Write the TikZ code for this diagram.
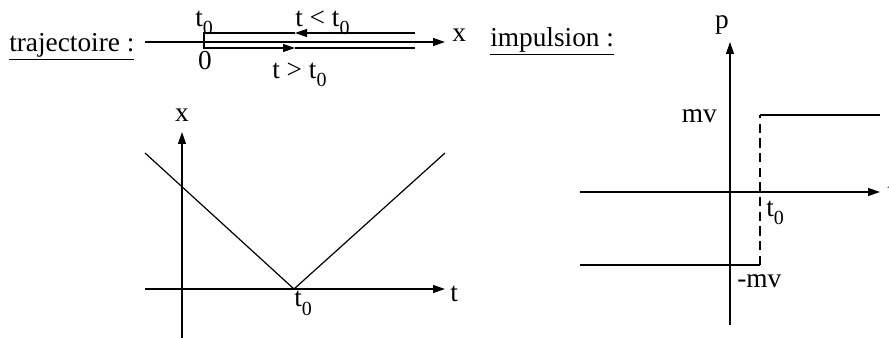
\documentclass[tikz,border=0pt]{standalone}
\usepackage{fontspec}
\setmainfont{Liberation Serif}
\usetikzlibrary{arrows.meta}
\newcommand{\tz}{t\raisebox{-6pt}{\fontsize{15}{15}\selectfont 0}}

\begin{document}
\begin{tikzpicture}[x=0.75pt, y=-0.75pt,
            ax/.style={draw=black, line width=0.9pt, -{Triangle[length=9pt, width=6pt]}},
            ln/.style={draw=black, line width=0.9pt},
            lb/.style={inner sep=0pt, font=\fontsize{20.5}{24}\selectfont}]
            \useasboundingbox (0,0) rectangle (889,338);
            % trajectoire
            \node[lb, anchor=base west] (traj) at (9,52) {\underline{trajectoire :}};
            \coordinate (a0) at (145,42);
            \coordinate (a1) at (445,42);
            \draw[ax] (a0) -- (a1);
            \node[lb, anchor=base west] (ax) at (452,42) {x};
            \coordinate (r1) at (415,33);
            \coordinate (m1) at (295,33);
            \coordinate (c1) at (204,33);
            \coordinate (c2) at (204,48);
            \coordinate (m2) at (295,48);
            \coordinate (r2) at (415,48);
            \draw[ax] (r1) -- (m1);
            \draw[ax] (m1) -- (c1) -- (c2) -- (m2);
            \draw[ln] (m2) -- (r2);
            \node[lb, anchor=base west] (tz1) at (195,27) {\tz};
            \node[lb, anchor=base west] (tlt) at (295,27) {t < \tz};
            \node[lb, anchor=base] (zero) at (205,70) {0};
            \node[lb, anchor=base west] (tgt) at (272,79) {t > \tz};
            % x(t)
            \coordinate (xb) at (182,338);
            \coordinate (xt) at (182,132);
            \coordinate (tl) at (145,289);
            \coordinate (tr) at (445,289);
            \draw[ax] (xb) -- (xt);
            \draw[ax] (tl) -- (tr);
            \node[lb, anchor=base] (xl) at (182,122) {x};
            \node[lb, anchor=base west] (tlab) at (450,302) {t};
            \coordinate (v0) at (145,153);
            \coordinate (v1) at (294,289);
            \coordinate (v2) at (445,153);
            \draw[ln] (v0) -- (v1) -- (v2);
            \node[lb, anchor=base west] (tz2) at (294,307) {\tz};
            % impulsion
            \node[lb, anchor=base west] (imp) at (490,47) {\underline{impulsion :}};
            \coordinate (pb) at (730,325);
            \coordinate (pt) at (730,42);
            \coordinate (hl) at (580,192);
            \coordinate (hr) at (880,192);
            \draw[ax] (pb) -- (pt);
            \draw[ax] (hl) -- (hr);
            \node[lb, anchor=base] (pl) at (722,29) {p};
            \node[lb, anchor=base west] (tcut) at (887,200) {t};
            \coordinate (s0) at (580,265);
            \coordinate (s1) at (760,265);
            \coordinate (s2) at (760,115);
            \coordinate (s3) at (880,115);
            \draw[ln] (s0) -- (s1);
            \draw[ln, dash pattern=on 7pt off 4pt] (s1) -- (s2);
            \draw[ln] (s2) -- (s3);
            \node[lb, anchor=base east] (mv) at (717,123) {mv};
            \node[lb, anchor=base west] (tz3) at (766,217) {\tz};
            \node[lb, anchor=base west] (mmv) at (737,288) {-mv};
        \end{tikzpicture}
\end{document}
